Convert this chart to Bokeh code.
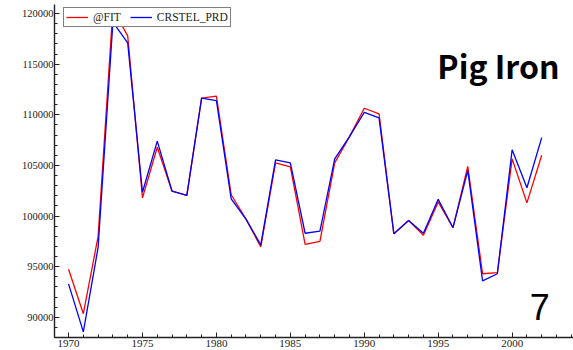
from bokeh.plotting import figure
from bokeh.models import (ColumnDataSource, SingleIntervalTicker, Legend, LegendItem,
                          Label, Range1d, BasicTickFormatter)
from bokeh.embed import file_html
from bokeh.resources import INLINE

# Annual pig iron production: fitted values vs. reported series
years = list(range(1970, 2003))
fit = [94750, 90350, 98000, 120450, 117800, 101800, 106800, 102450, 102050, 111650,
       111850, 102100, 99700, 96950, 105250, 104850, 97200, 97500, 105250, 107850,
       110650, 110100, 98250, 99550, 98100, 101400, 98850, 104900, 94300, 94400,
       105650, 101300, 106000]
prd = [93300, 88550, 96900, 119150, 117100, 102350, 107400, 102450, 102050, 111650,
       111400, 101700, 99700, 97150, 105550, 105250, 98300, 98500, 105650, 107850,
       110250, 109700, 98250, 99550, 98300, 101650, 98850, 104500, 93600, 94300,
       106550, 102800, 107750]
series_names = ["@FIT", "CRSTEL_PRD"]
title_text = "Pig Iron"
panel_number = "7"

src = ColumnDataSource(dict(year=years, fit=fit, prd=prd))

p = figure(width=573, height=350, output_backend="svg", toolbar_location=None,
           x_range=Range1d(1969.05, 2004.15), y_range=Range1d(88000, 120900),
           min_border_left=54, min_border_right=0, min_border_top=4, min_border_bottom=13)
p.outline_line_color = None
p.xgrid.visible = False
p.ygrid.visible = False
p.background_fill_color = "white"
p.border_fill_color = "white"

r_fit = p.line("year", "fit", source=src, line_color="#ff0000", line_width=1.3)
r_prd = p.line("year", "prd", source=src, line_color="#0000ff", line_width=1.3)

for ax in (p.xaxis[0], p.yaxis[0]):
    ax.axis_line_color = "#222222"
    ax.axis_line_width = 1.4
    ax.major_tick_line_color = "#222222"
    ax.minor_tick_line_color = "#222222"
    ax.major_tick_in = 5
    ax.major_tick_out = 0
    ax.minor_tick_in = 3
    ax.minor_tick_out = 0
    ax.major_label_text_font = "Liberation Serif"
    ax.major_label_text_color = "#222222"

p.xaxis[0].ticker = SingleIntervalTicker(interval=5, num_minor_ticks=5)
p.xaxis[0].major_label_text_font_size = "11px"
p.xaxis[0].major_label_standoff = 2
p.yaxis[0].ticker = SingleIntervalTicker(interval=5000, num_minor_ticks=5)
p.yaxis[0].formatter = BasicTickFormatter(use_scientific=False)
p.yaxis[0].major_label_text_font_size = "10.5px"
p.yaxis[0].major_label_standoff = 1

legend = Legend(items=[LegendItem(label=series_names[0], renderers=[r_fit]),
                       LegendItem(label=series_names[1], renderers=[r_prd])],
                location=(9, 310), orientation="horizontal",
                border_line_color="black", border_line_width=1,
                background_fill_alpha=1.0, padding=2, spacing=9, margin=0,
                glyph_width=22, glyph_height=14, label_height=14, label_standoff=5,
                label_text_font="Liberation Serif", label_text_font_size="11.5px",
                label_text_color="#222222")
p.add_layout(legend)

p.add_layout(Label(x=2003.2, y=114900, text=title_text, text_align="right",
                   text_baseline="alphabetic", text_font="Noto Sans CJK JP",
                   text_font_style="bold", text_font_size="32px", text_color="black"))
p.add_layout(Label(x=2002.55, y=91000, text=panel_number, text_align="right",
                   text_baseline="alphabetic", text_font="Liberation Sans",
                   text_font_size="36px", text_color="black"))

open("out.html", "w").write(file_html(p, INLINE))
